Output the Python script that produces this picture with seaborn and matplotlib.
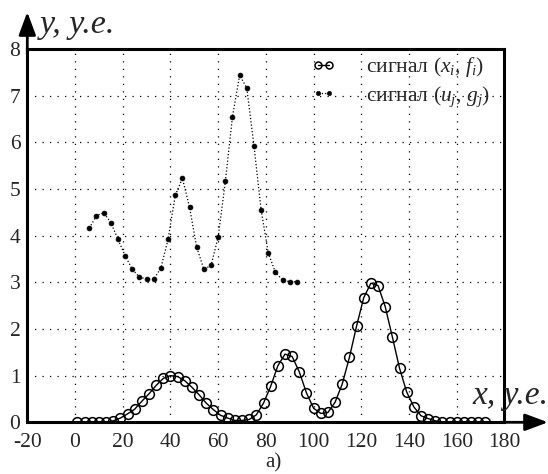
'''signals f(x) and g(u) on one chart'''
import matplotlib
matplotlib.use('Agg')
import matplotlib.pyplot as plt
from matplotlib.patches import FancyArrowPatch
import seaborn as sns

# signal (x_i, f_i)
x_f = list(range(1, 173, 3))
f_vals = [0.0, 0.0, 0.0, 0.0, 0.01, 0.03, 0.09, 0.18, 0.28, 0.45,
          0.61, 0.79, 0.94, 1.0, 0.98, 0.89, 0.75, 0.59, 0.41, 0.27,
          0.15, 0.09, 0.04, 0.04, 0.06, 0.16, 0.41, 0.77, 1.21, 1.46,
          1.41, 1.08, 0.63, 0.30, 0.19, 0.21, 0.43, 0.82, 1.39, 2.06,
          2.67, 2.98, 2.93, 2.48, 1.83, 1.16, 0.65, 0.33, 0.14, 0.08,
          0.03, 0.01, 0.01, 0.01, 0.0, 0.0, 0.0, 0.0]

# signal (u_j, g_j)
u_g = list(range(6, 94, 3))
g_vals = [4.16, 4.43, 4.49, 4.28, 3.92, 3.57, 3.28, 3.11, 3.07, 3.06,
          3.31, 3.92, 4.86, 5.23, 4.61, 3.75, 3.28, 3.36, 3.97, 5.16,
          6.55, 7.44, 7.16, 5.93, 4.55, 3.63, 3.21, 3.05, 3.01, 3.01]

x_ticks = [-20, 0, 20, 40, 60, 80, 100, 120, 140, 160, 180]
y_ticks = [0, 1, 2, 3, 4, 5, 6, 7, 8]
labels = ['сигнал ($x_i$, $f_i$)', 'сигнал ($u_j$, $g_j$)']


def arrow(fig, start, end):
    '''axis arrow in pixel coords of the 548x474 figure'''
    pos = [(px / 548, 1 - py / 474) for px, py in (start, end)]
    fig.add_artist(FancyArrowPatch(
        pos[0], pos[1], transform=fig.transFigure,
        arrowstyle='-|>,head_length=0.7,head_width=0.26',
        mutation_scale=20, color='black', lw=2.0,
        shrinkA=0, shrinkB=0, clip_on=False))


def main():
    sns.set_style('white')
    plt.rcParams['font.family'] = ['Liberation Serif', 'DejaVu Serif']
    plt.rcParams['mathtext.fontset'] = 'custom'
    plt.rcParams['mathtext.rm'] = 'Liberation Serif'
    plt.rcParams['mathtext.it'] = 'Liberation Serif:italic'
    plt.rcParams['axes.unicode_minus'] = False

    fig = plt.figure(figsize=(5.48, 4.74), dpi=100)
    ax = fig.add_axes([0.0498, 0.1091, 0.8708, 0.7876])

    sns.lineplot(x=x_f, y=f_vals, ax=ax, color='black', lw=1.0,
                 marker='o', markersize=7, markerfacecolor='none',
                 markeredgecolor='black', markeredgewidth=1.1,
                 label=labels[0], zorder=3)
    sns.lineplot(x=u_g, y=g_vals, ax=ax, color='black', lw=0.9,
                 linestyle=':', marker='o', markersize=3.5,
                 markerfacecolor='black', markeredgecolor='black',
                 markeredgewidth=0.5, label=labels[1], zorder=3)

    ax.set_xlim(-20, 180)
    ax.set_ylim(0, 8)
    ax.set_xticks(x_ticks)
    ax.set_yticks(y_ticks)
    ax.set_xlabel('')
    ax.set_ylabel('')
    ax.grid(True, color='black', lw=0.9, linestyle=(0, (1, 5)))
    ax.tick_params(length=0, labelsize=15.5)
    ax.tick_params(axis='x', pad=8)
    ax.tick_params(axis='y', pad=5)
    for sp in ax.spines.values():
        sp.set_linewidth(2.2)
        sp.set_color('black')

    # axis arrows
    arrow(fig, (500, 422.3), (548, 422.3))
    arrow(fig, (27.3, 55), (27.3, 12))

    fig.text(40 / 548, 1 - 33 / 474, 'y, у.е.', style='italic',
             fontsize=24.5, va='baseline', ha='left')
    fig.text(472 / 548, 1 - 404 / 474, 'x, у.е.', style='italic',
             fontsize=24, va='baseline', ha='left')
    fig.text(273 / 548, 2 / 474, 'а)', fontsize=15,
             ha='center', va='bottom')

    leg = ax.legend(loc='upper left', bbox_to_anchor=(0.565, 1.023),
                    frameon=False, fontsize=15.5, numpoints=2,
                    handlelength=1.1, handletextpad=1.4,
                    labelspacing=0.22, borderpad=0.2)
    leg.legend_handles[0].set_markersize(5)
    leg.legend_handles[1].set_markersize(3)

    fig.savefig('out.png', dpi=100)


if __name__ == '__main__':
    main()
